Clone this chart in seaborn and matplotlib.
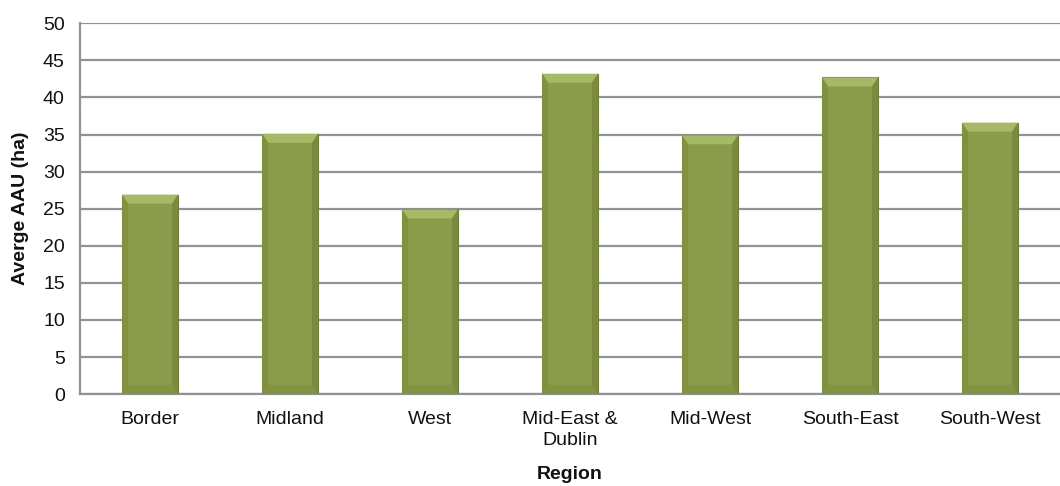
import matplotlib
matplotlib.use("Agg")
import matplotlib.pyplot as plt
from matplotlib.patches import Polygon
import seaborn as sns
import pandas as pd

regions = ["Border", "Midland", "West", "Mid-East &\nDublin", "Mid-West", "South-East", "South-West"]
avg_aau = [26.9, 35.1, 24.9, 43.2, 34.9, 42.7, 36.6]
y_ticks = [0, 5, 10, 15, 20, 25, 30, 35, 40, 45, 50]

df = pd.DataFrame({"Region": regions, "AAU": avg_aau})

sns.set_theme(style="white")
plt.rcParams["font.family"] = ["Liberation Sans", "DejaVu Sans"]

grid_col = "#8f9297"
bar_col = "#8a9b4b"
text_col = "#111111"

fig = plt.figure(figsize=(10.6, 4.86), dpi=100)
ax = fig.add_axes([0.0755, 0.189, 0.9245, 0.763])

sns.barplot(data=df, x="Region", y="AAU", color=bar_col, width=0.4,
            saturation=1, edgecolor="#6f7e38", linewidth=0.8, ax=ax, zorder=3)

ax.set_ylim(0, 50)
ax.set_xlim(-0.5, len(regions) - 0.5)
ax.set_yticks(y_ticks)
ax.set_yticklabels([str(t) for t in y_ticks], fontsize=14, color=text_col)
ax.set_xticks(range(len(regions)))
ax.set_xticklabels(regions, fontsize=14, color=text_col, linespacing=1.35)
ax.tick_params(axis="x", which="major", length=0, pad=12)
ax.set_xticks([i - 0.5 for i in range(len(regions) + 1)], minor=True)
ax.tick_params(axis="x", which="minor", length=6, width=1.5, color=grid_col, direction="out")
ax.tick_params(axis="y", length=6, width=1.5, color=grid_col, direction="out", pad=5)

ax.yaxis.grid(True, color=grid_col, linewidth=1.6, zorder=0)
ax.set_axisbelow(True)
for side in ["top", "right"]:
    ax.spines[side].set_visible(False)
ax.spines["left"].set_color(grid_col)
ax.spines["left"].set_linewidth(1.6)
ax.spines["bottom"].set_color(grid_col)
ax.spines["bottom"].set_linewidth(1.6)

ax.set_xlabel("Region", fontsize=14, fontweight="bold", color=text_col, labelpad=12)
ax.set_ylabel("Averge AAU (ha)", fontsize=14, fontweight="bold", color=text_col, labelpad=10)

# Bevelled look for each bar, derived from the bar patch geometry
fig.canvas.draw()
bbox = ax.get_window_extent()
px_x = (ax.get_xlim()[1] - ax.get_xlim()[0]) / bbox.width
px_y = (ax.get_ylim()[1] - ax.get_ylim()[0]) / bbox.height
bx = 6 * px_x
by = 9 * px_y
for p in list(ax.patches):
    x0, y0 = p.get_x(), p.get_y()
    w, h = p.get_width(), p.get_height()
    x1, y1 = x0 + w, y0 + h
    top = Polygon([(x0, y1), (x1, y1), (x1 - bx, y1 - by), (x0 + bx, y1 - by)],
                  closed=True, facecolor="#a6b965", edgecolor="none", zorder=4)
    left = Polygon([(x0, y0), (x0, y1), (x0 + bx, y1 - by), (x0 + bx, y0 + by)],
                   closed=True, facecolor="#81923f", edgecolor="none", zorder=4)
    right = Polygon([(x1, y0), (x1, y1), (x1 - bx, y1 - by), (x1 - bx, y0 + by)],
                    closed=True, facecolor="#7b8b3d", edgecolor="none", zorder=4)
    bottom = Polygon([(x0, y0), (x1, y0), (x1 - bx, y0 + by), (x0 + bx, y0 + by)],
                     closed=True, facecolor="#829340", edgecolor="none", zorder=4)
    for poly in (top, left, right, bottom):
        ax.add_patch(poly)

fig.savefig("out.png", dpi=100)
